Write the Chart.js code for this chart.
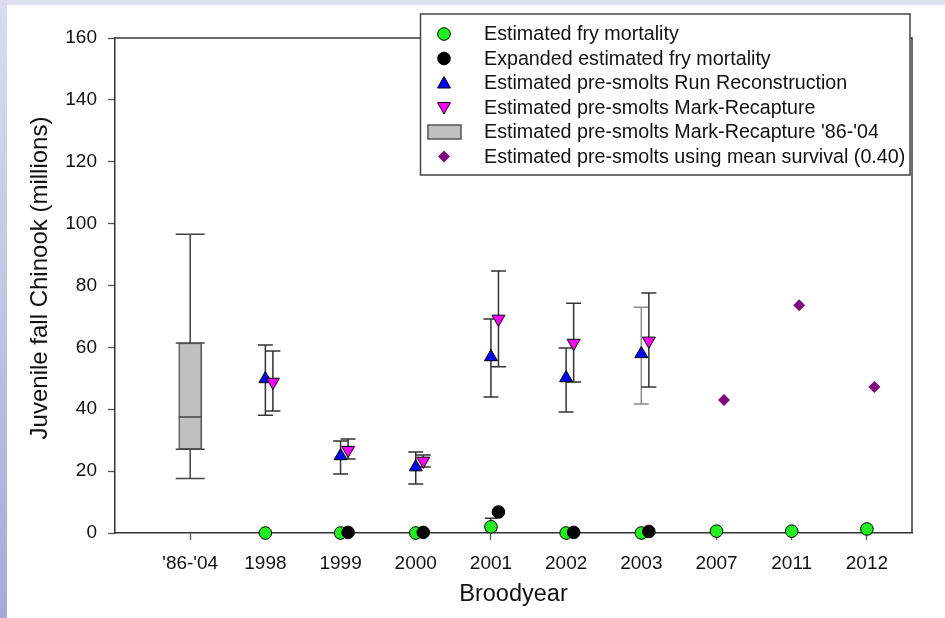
<!DOCTYPE html>
<html>
<head>
<meta charset="utf-8">
<script src="https://cdn.jsdelivr.net/npm/chart.js@4.4.1/dist/chart.umd.min.js"></script>
<style>
  html, body { margin: 0; padding: 0; background: #ffffff; width: 945px; height: 618px; overflow: hidden; }
  #topband { position: absolute; left: 0; top: 0; width: 945px; height: 5px; background: #dfe0f2; }
  #leftband { position: absolute; left: 0; top: 0; width: 7px; height: 618px; background: linear-gradient(#dcdcf0, #a9a9d9); }
  #wrap { position: absolute; left: 0; top: 0; width: 945px; height: 618px; }
</style>
</head>
<body>
<div id="topband"></div>
<div id="leftband"></div>
<div id="wrap"><canvas id="c" width="945" height="618"></canvas></div>
<script>
// Brood years on the x axis (first entry is the 1986-2004 summary box)
const categories = ["'86-'04", "1998", "1999", "2000", "2001", "2002", "2003", "2007", "2011", "2012"];

// Juvenile fall Chinook, millions
const fryMortality         = [null, 0, 0, 0, 2.0, 0, 0, 0.6, 0.6, 1.3];
const fryMortalityHigh     = [null, null, null, null, 4.8, null, null, null, null, null];
const fryMortalityLow      = [null, null, null, null, 0.8, null, null, null, null, null];
const expandedFryMortality = [null, null, 0.2, 0.2, 6.8, 0.2, 0.5, null, null, null];

const runReconstruction = [null, 49.8, 24.9, 21.3, 56.9, 50.1, 57.9, null, null, null];
const rrLow             = [null, 38.1, 19.1, 15.8, 44.0, 39.1, 41.7, null, null, null];
const rrHigh            = [null, 60.8, 29.7, 26.2, 69.2, 59.8, 73.0, null, null, null];

const markRecapture = [null, 48.8, 26.8, 23.3, 69.2, 61.4, 62.1, null, null, null];
const mrLow         = [null, 39.4, 23.9, 21.3, 53.7, 48.8, 47.2, null, null, null];
const mrHigh        = [null, 58.8, 30.4, 25.2, 84.7, 74.3, 77.6, null, null, null];

const meanSurvival = [null, null, null, null, null, null, null, 43.0, 73.6, 47.2];

// Mark-recapture 1986-2004 distribution: min, Q1, median, Q3, max
const boxMin = 17.6;
const boxQ1 = 27.1;
const boxMedian = 37.5;
const boxQ3 = 61.4;
const boxMax = 96.6;

const yTicks = [0, 20, 40, 60, 80, 100, 120, 140, 160];

const yTitle = 'Juvenile fall Chinook (millions)';
const xTitle = 'Broodyear';

const legendLabels = [
  'Estimated fry mortality',
  'Expanded estimated fry mortality',
  'Estimated pre-smolts Run Reconstruction',
  'Estimated pre-smolts Mark-Recapture',
  "Estimated pre-smolts Mark-Recapture '86-'04",
  'Estimated pre-smolts using mean survival (0.40)'
];

// ---- styling ----
const FONT = '"Liberation Sans", Arial, sans-serif';
const SHIFT = 0.1;           // second marker of a pair sits slightly right of the tick
const rrBarColors = ['#333', '#333', '#333', '#333', '#333', '#333', '#8a8a8a', '#333', '#333', '#333'];
const GREEN = '#22ee22';
const PURPLE = '#7f0a7f';

function points(values, shift) {
  const out = [];
  values.forEach((v, i) => { if (v !== null) out.push({ x: i + 1 + shift, y: v }); });
  return out;
}

function drawBar(ctx, xs, lo, hi, half, color) {
  ctx.strokeStyle = color;
  ctx.lineWidth = 1.5;
  ctx.beginPath();
  ctx.moveTo(xs, lo); ctx.lineTo(xs, hi);
  ctx.moveTo(xs - half, lo); ctx.lineTo(xs + half, lo);
  ctx.moveTo(xs - half, hi); ctx.lineTo(xs + half, hi);
  ctx.stroke();
}

function legendMarker(ctx, kind, cx, cy) {
  ctx.lineWidth = 1;
  ctx.strokeStyle = '#000';
  ctx.beginPath();
  if (kind === 'green' || kind === 'black') {
    ctx.arc(cx, cy, 6.3, 0, Math.PI * 2);
    ctx.fillStyle = kind === 'green' ? GREEN : '#000';
    ctx.fill(); ctx.stroke();
  } else if (kind === 'up') {
    ctx.moveTo(cx, cy - 6.5); ctx.lineTo(cx + 6.5, cy + 5); ctx.lineTo(cx - 6.5, cy + 5); ctx.closePath();
    ctx.fillStyle = '#0000ff'; ctx.fill(); ctx.stroke();
  } else if (kind === 'down') {
    ctx.moveTo(cx, cy + 6.5); ctx.lineTo(cx + 6.5, cy - 5); ctx.lineTo(cx - 6.5, cy - 5); ctx.closePath();
    ctx.fillStyle = '#ff00ff'; ctx.fill(); ctx.stroke();
  } else if (kind === 'box') {
    ctx.rect(cx - 16, cy - 7, 33, 14);
    ctx.fillStyle = '#c0c0c0'; ctx.fill();
    ctx.strokeStyle = '#555'; ctx.lineWidth = 1.5; ctx.stroke();
  } else if (kind === 'diamond') {
    ctx.moveTo(cx, cy - 6); ctx.lineTo(cx + 6, cy); ctx.lineTo(cx, cy + 6); ctx.lineTo(cx - 6, cy); ctx.closePath();
    ctx.fillStyle = PURPLE; ctx.fill();
  }
}

const overlay = {
  id: 'overlay',
  beforeDatasetsDraw(chart) {
    const { ctx, chartArea: a, scales: { x, y } } = chart;
    ctx.save();
    // top and right sides of the plot frame
    ctx.strokeStyle = '#3a3a3a';
    ctx.lineWidth = 1.5;
    ctx.beginPath();
    ctx.moveTo(a.left, a.top); ctx.lineTo(a.right, a.top); ctx.lineTo(a.right, a.bottom);
    ctx.stroke();

    // box whiskers
    const bx = x.getPixelForValue(1);
    drawBar(ctx, bx, y.getPixelForValue(boxMin), y.getPixelForValue(boxQ1), 14.5, '#444');
    drawBar(ctx, bx, y.getPixelForValue(boxQ3), y.getPixelForValue(boxMax), 14.5, '#444');

    // error bars
    categories.forEach((c, i) => {
      if (rrLow[i] !== null) {
        drawBar(ctx, x.getPixelForValue(i + 1), y.getPixelForValue(rrLow[i]), y.getPixelForValue(rrHigh[i]), 7.5, rrBarColors[i]);
      }
      if (mrLow[i] !== null) {
        drawBar(ctx, x.getPixelForValue(i + 1 + SHIFT), y.getPixelForValue(mrLow[i]), y.getPixelForValue(mrHigh[i]), 7.5, '#333');
      }
      if (fryMortalityHigh[i] !== null) {
        drawBar(ctx, x.getPixelForValue(i + 1), y.getPixelForValue(fryMortalityLow[i]), y.getPixelForValue(fryMortalityHigh[i]), 6, '#333');
      }
    });
    ctx.restore();
  },
  afterDatasetsDraw(chart) {
    const { ctx, scales: { x, y } } = chart;
    ctx.save();
    const bx = x.getPixelForValue(1);
    const my = y.getPixelForValue(boxMedian);
    ctx.strokeStyle = '#444';
    ctx.lineWidth = 1.5;
    ctx.beginPath();
    ctx.moveTo(bx - 11.5, my); ctx.lineTo(bx + 11.5, my);
    ctx.stroke();
    ctx.restore();
  },
  afterDraw(chart) {
    const { ctx } = chart;
    ctx.save();
    // rotated y-axis title
    ctx.translate(40, 278);
    ctx.rotate(-Math.PI / 2);
    ctx.font = '24px ' + FONT;
    ctx.fillStyle = '#111';
    ctx.textAlign = 'center';
    ctx.textBaseline = 'middle';
    ctx.fillText(yTitle, 0, 0);
    ctx.restore();

    // legend
    ctx.save();
    const L = 420.5, T = 14, R = 910, B = 175;
    ctx.fillStyle = '#fff';
    ctx.fillRect(L, T, R - L, B - T);
    ctx.strokeStyle = '#444';
    ctx.lineWidth = 1.5;
    ctx.strokeRect(L, T, R - L, B - T);
    const kinds = ['green', 'black', 'up', 'down', 'box', 'diamond'];
    ctx.font = '19.7px ' + FONT;
    ctx.textBaseline = 'middle';
    legendLabels.forEach((t, i) => {
      const cy = 34 + i * 24.5;
      legendMarker(ctx, kinds[i], 444, cy);
      ctx.fillStyle = '#111';
      ctx.fillText(t, 484, cy + 1);
    });
    ctx.restore();
  }
};

const ctx = document.getElementById('c').getContext('2d');
new Chart(ctx, {
  type: 'scatter',
  data: {
    datasets: [
      {
        type: 'bar',
        label: legendLabels[4],
        data: [{ x: 1, y: [boxQ1, boxQ3] }],
        backgroundColor: '#c0c0c0',
        borderColor: '#555',
        borderWidth: 1.5,
        borderSkipped: false,
        barThickness: 23,
        order: 9
      },
      {
        label: legendLabels[0],
        data: points(fryMortality, 0),
        pointStyle: 'circle', pointRadius: 6.3,
        backgroundColor: GREEN, borderColor: '#000', borderWidth: 1,
        clip: false, order: 6
      },
      {
        label: legendLabels[1],
        data: points(expandedFryMortality, SHIFT),
        pointStyle: 'circle', pointRadius: 6.3,
        backgroundColor: '#000', borderColor: '#000', borderWidth: 1,
        clip: false, order: 5
      },
      {
        label: legendLabels[2],
        data: points(runReconstruction, 0),
        pointStyle: 'triangle', pointRadius: 7.5,
        backgroundColor: '#0000ff', borderColor: '#000', borderWidth: 1,
        clip: false, order: 4
      },
      {
        label: legendLabels[3],
        data: points(markRecapture, SHIFT),
        pointStyle: 'triangle', pointRotation: 180, pointRadius: 7.5,
        backgroundColor: '#ff00ff', borderColor: '#000', borderWidth: 1,
        clip: false, order: 3
      },
      {
        label: legendLabels[5],
        data: points(meanSurvival, SHIFT),
        pointStyle: 'rectRot', pointRadius: 6,
        backgroundColor: PURPLE, borderColor: PURPLE, borderWidth: 0,
        clip: false, order: 2
      }
    ]
  },
  options: {
    responsive: false,
    animation: false,
    devicePixelRatio: 1,
    layout: { padding: { left: 8, right: 33, top: 38, bottom: 0 } },
    plugins: { legend: { display: false }, tooltip: { enabled: false } },
    scales: {
      x: {
        type: 'linear',
        min: 0,
        max: 10.6,
        offset: false,
        afterFit(s) { s.height = 85; },
        afterBuildTicks(s) { s.ticks = categories.map((c, i) => ({ value: i + 1 })); },
        grid: { offset: false, drawOnChartArea: false, drawTicks: true, tickLength: 7, tickColor: '#555', tickWidth: 1.3 },
        border: { display: true, color: '#333', width: 1.5 },
        ticks: {
          autoSkip: false, maxRotation: 0, padding: 12,
          color: '#111', font: { family: FONT, size: 19 },
          callback: (v) => categories[Math.round(v) - 1]
        },
        title: { display: true, text: xTitle, color: '#111', font: { family: FONT, size: 23.5 }, padding: { top: 0, bottom: 9 } }
      },
      y: {
        min: 0,
        max: 160,
        afterFit(s) { s.width = 107; },
        afterBuildTicks(s) { s.ticks = yTicks.map(v => ({ value: v })); },
        grid: { drawOnChartArea: false, drawTicks: true, tickLength: 7, tickColor: '#555', tickWidth: 1.3 },
        border: { display: true, color: '#333', width: 1.5 },
        ticks: { padding: 11, color: '#111', font: { family: FONT, size: 19 } },
        title: { display: false }
      }
    }
  },
  plugins: [overlay]
});
</script>
</body>
</html>
